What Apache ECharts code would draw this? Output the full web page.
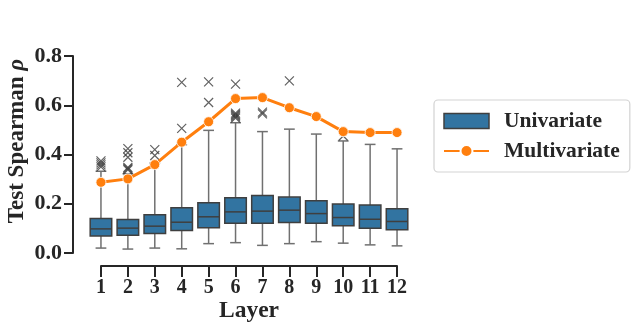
<!DOCTYPE html>
<html>
<head>
<meta charset="utf-8">
<script src="https://cdn.jsdelivr.net/npm/echarts@6/dist/echarts.min.js"></script>
<style>
html,body{margin:0;padding:0;background:#fff;}
#chart{width:635px;height:332px;}
</style>
</head>
<body>
<div id="chart"></div>
<script>
// ---- data ----
var layers = ['1','2','3','4','5','6','7','8','9','10','11','12'];
var multivariate = [0.287,0.301,0.359,0.450,0.533,0.627,0.631,0.590,0.554,0.493,0.489,0.489];
var whiskLow  = [0.020,0.016,0.020,0.017,0.038,0.042,0.031,0.038,0.046,0.040,0.033,0.029];
var q1        = [0.069,0.072,0.079,0.091,0.103,0.121,0.121,0.124,0.121,0.111,0.101,0.094];
var median    = [0.098,0.101,0.109,0.125,0.147,0.167,0.170,0.174,0.160,0.144,0.137,0.128];
var q3        = [0.140,0.136,0.155,0.184,0.204,0.224,0.234,0.227,0.212,0.199,0.195,0.180];
var whiskHigh = [0.332,0.322,0.365,0.440,0.498,0.529,0.493,0.503,0.483,0.455,0.441,0.423];
var outliers = [
  [0.350,0.358,0.366,0.374],
  [0.338,0.343,0.348,0.389,0.407,0.424],
  [0.396,0.420],
  [0.506,0.693],
  [0.611,0.695],
  [0.548,0.553,0.558,0.563,0.568,0.686],
  [0.565,0.572],
  [0.699],
  [],
  [0.475],
  [],
  []
];
var yTicks = ['0.0','0.2','0.4','0.6','0.8'];

// ---- build ----
var boxData = layers.map(function(l,i){return [i, whiskLow[i], q1[i], median[i], q3[i], whiskHigh[i]];});
var outData = [];
outliers.forEach(function(arr,i){arr.forEach(function(v){outData.push([i,v]);});});

var AX = '#262626';
var FONT = 'Liberation Serif';
var BOX = '#3274a1';
var EDGE = '#3f3f3f';
var WHISK = '#707070';

var chart = echarts.init(document.getElementById('chart'), null, {renderer:'canvas'});
chart.setOption({
  animation:false,
  backgroundColor:'#fff',
  grid:[
    {left:87.5, right:224.5, top:56, bottom:79},
    {left:101, right:238, top:260, bottom:66}
  ],
  xAxis:[
    {type:'category', gridIndex:0, data:layers, boundaryGap:true,
     axisLine:{show:false}, axisTick:{show:false}, axisLabel:{show:false}, splitLine:{show:false}},
    {type:'value', gridIndex:1, min:1, max:12, interval:1,
     axisLine:{show:true, lineStyle:{color:AX, width:2}},
     axisTick:{show:true, length:11, lineStyle:{color:AX, width:2}},
     axisLabel:{show:true, margin:12, color:AX, fontFamily:FONT, fontWeight:'bold', fontSize:20},
     splitLine:{show:false},
     name:'Layer', nameLocation:'middle', nameGap:30,
     nameTextStyle:{color:AX, fontFamily:FONT, fontWeight:'bold', fontSize:23.5}}
  ],
  yAxis:[
    {type:'value', gridIndex:0, min:0, max:0.8, interval:0.2, position:'left', offset:14.5,
     axisLine:{show:true, lineStyle:{color:AX, width:2}},
     axisTick:{show:true, length:9, lineStyle:{color:AX, width:2}},
     axisLabel:{show:true, margin:11, color:AX, fontFamily:FONT, fontWeight:'bold', fontSize:22,
       formatter:function(v,idx){return yTicks[idx];}},
     splitLine:{show:false}},
    {type:'value', gridIndex:1, show:false}
  ],
  legend:{
    orient:'vertical', left:434, top:100,
    backgroundColor:'#fff', borderColor:'#d3d3d3', borderWidth:1.2, borderRadius:4,
    padding:[10,10,10,9], itemGap:8, itemWidth:45, itemHeight:15,
    textStyle:{color:AX, fontFamily:FONT, fontWeight:'bold', fontSize:21.5, padding:[0,0,0,10]},
    data:[
      {name:'Univariate', icon:'rect', itemStyle:{color:BOX, borderColor:EDGE, borderWidth:1.5}},
      {name:'Multivariate'}
    ]
  },
  graphic:[
    {type:'text', x:17.5, y:141, rotation:Math.PI/2, z:10,
     style:{text:'Test Spearman {r|ρ}', fill:AX, font:'bold 23px "Liberation Serif"',
       textAlign:'center', textVerticalAlign:'middle',
       rich:{r:{fontStyle:'italic', fontWeight:'bold', fontSize:23, fontFamily:FONT, fill:AX}}}}
  ],
  series:[
    {
      name:'Univariate', type:'custom', xAxisIndex:0, yAxisIndex:0, z:2,
      itemStyle:{color:BOX, borderColor:EDGE, borderWidth:1.5},
      encode:{x:0, y:[1,2,3,4,5]},
      data:boxData,
      renderItem:function(params, api){
        var i = api.value(0);
        var pLow = api.coord([i, api.value(1)]);
        var pQ1 = api.coord([i, api.value(2)]);
        var pMed = api.coord([i, api.value(3)]);
        var pQ3 = api.coord([i, api.value(4)]);
        var pHigh = api.coord([i, api.value(5)]);
        var band = api.size([1,0])[0];
        var bw = band*0.8;
        var cw = bw*0.5;
        var x = pMed[0];
        return {type:'group', children:[
          {type:'line', shape:{x1:x,y1:pLow[1],x2:x,y2:pQ1[1]}, style:{stroke:WHISK,lineWidth:1.5}},
          {type:'line', shape:{x1:x,y1:pQ3[1],x2:x,y2:pHigh[1]}, style:{stroke:WHISK,lineWidth:1.5}},
          {type:'line', shape:{x1:x-cw/2,y1:pLow[1],x2:x+cw/2,y2:pLow[1]}, style:{stroke:WHISK,lineWidth:1.5}},
          {type:'line', shape:{x1:x-cw/2,y1:pHigh[1],x2:x+cw/2,y2:pHigh[1]}, style:{stroke:WHISK,lineWidth:1.5}},
          {type:'rect', shape:{x:x-bw/2,y:pQ3[1],width:bw,height:pQ1[1]-pQ3[1]}, style:{fill:BOX,stroke:EDGE,lineWidth:1.5}},
          {type:'line', shape:{x1:x-bw/2,y1:pMed[1],x2:x+bw/2,y2:pMed[1]}, style:{stroke:EDGE,lineWidth:1.5}}
        ]};
      }
    },
    {
      name:'outliers', type:'scatter', xAxisIndex:0, yAxisIndex:0, z:3,
      symbol:'path://M0,0L10,10M10,0L0,10', symbolSize:9,
      itemStyle:{color:'rgba(0,0,0,0)', borderColor:'#3a3a3a', borderWidth:1.2},
      data:outData, silent:true
    },
    {
      name:'Multivariate', type:'line', xAxisIndex:0, yAxisIndex:0, z:5,
      data:multivariate, symbol:'circle', symbolSize:10,
      lineStyle:{color:'#ff7f0e', width:3},
      itemStyle:{color:'#ff7f0e', borderColor:'#ffffff', borderWidth:0.8}
    }
  ]
});
</script>
</body>
</html>
